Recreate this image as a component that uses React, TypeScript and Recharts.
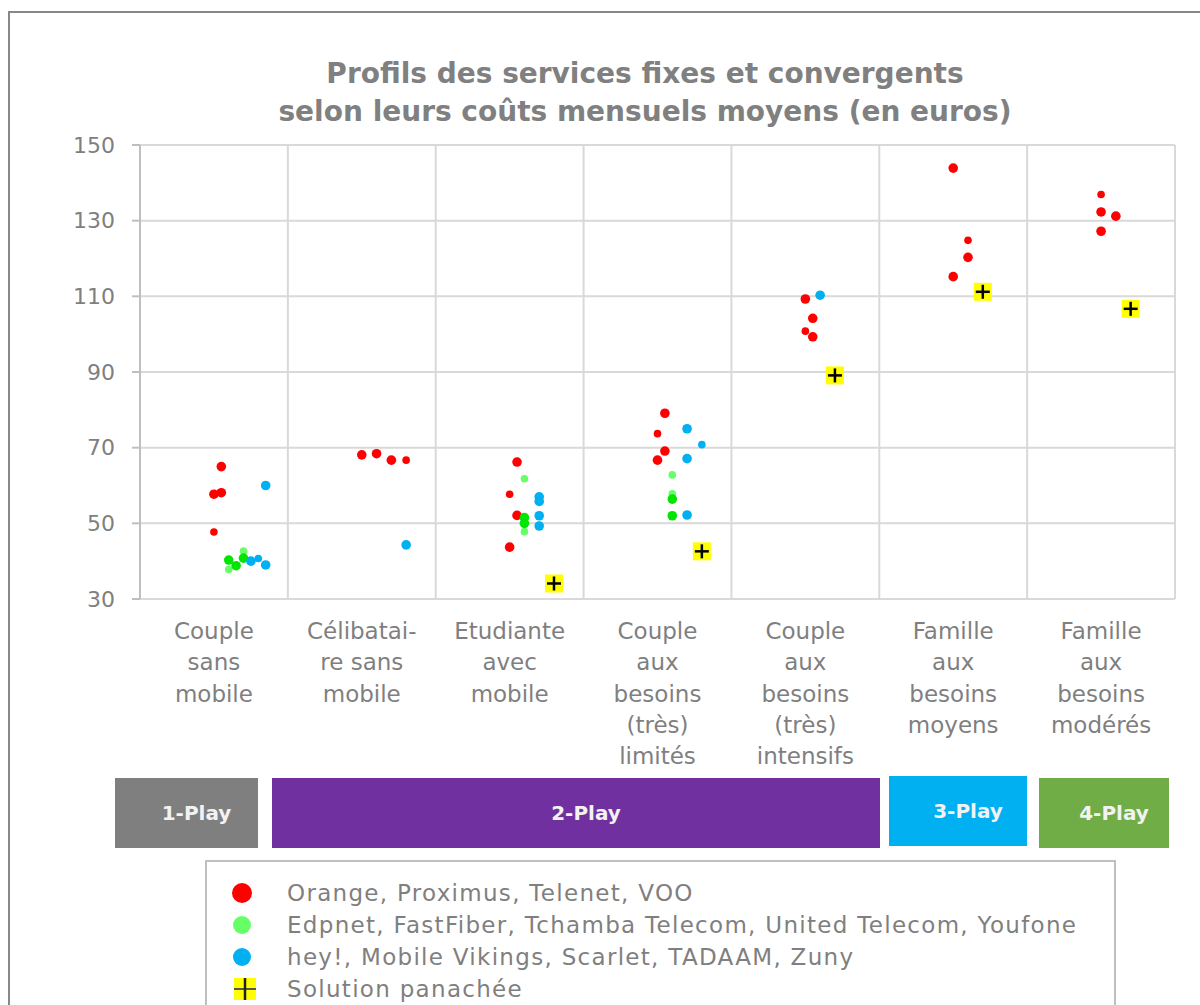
import React from "react";
import { CartesianGrid, ReferenceLine, Scatter, ScatterChart, XAxis, YAxis } from "recharts";

// categories (one band per profile, x = band index + position inside band)
const categoryLines: string[][] = [
    ["Couple", "sans", "mobile"],
    ["Célibatai-", "re sans", "mobile"],
    ["Etudiante", "avec", "mobile"],
    ["Couple", "aux", "besoins", "(très)", "limités"],
    ["Couple", "aux", "besoins", "(très)", "intensifs"],
    ["Famille", "aux", "besoins", "moyens"],
    ["Famille", "aux", "besoins", "modérés"],
];
const categoryTicks = [0.5, 1.5, 2.5, 3.5, 4.5, 5.5, 6.5];
const bandEdges = [0, 1, 2, 3, 4, 5, 6, 7];
const yTicks = [30, 50, 70, 90, 110, 130, 150];

const title = ["Profils des services fixes et convergents", "selon leurs coûts mensuels moyens (en euros)"];

// Orange, Proximus, Telenet, VOO
const bigOperatorsA = [
    { x: 0.55, y: 65.0 }, { x: 0.5, y: 57.7 }, { x: 0.55, y: 58.1 },
    { x: 1.5, y: 68.1 }, { x: 1.6, y: 68.4 }, { x: 1.7, y: 66.7 },
    { x: 2.55, y: 66.2 }, { x: 2.55, y: 52.1 }, { x: 2.5, y: 43.7 },
    { x: 3.55, y: 79.1 }, { x: 3.55, y: 69.1 }, { x: 3.5, y: 66.7 },
    { x: 4.5, y: 109.3 }, { x: 4.55, y: 104.2 }, { x: 4.55, y: 99.3 },
    { x: 5.5, y: 143.9 }, { x: 5.6, y: 120.3 }, { x: 5.5, y: 115.2 },
    { x: 6.5, y: 132.3 }, { x: 6.6, y: 131.2 }, { x: 6.5, y: 127.2 },
];
const bigOperatorsB = [
    { x: 0.5, y: 47.7 }, { x: 1.8, y: 66.7 }, { x: 2.5, y: 57.7 }, { x: 3.5, y: 73.7 },
    { x: 4.5, y: 100.8 }, { x: 5.6, y: 124.8 }, { x: 6.5, y: 136.9 },
];

// Edpnet, FastFiber, Tchamba Telecom, United Telecom, Youfone
const smallOperatorsA = [
    { x: 0.6, y: 40.3 }, { x: 0.7, y: 40.8 }, { x: 0.65, y: 38.8 },
    { x: 2.6, y: 51.5 }, { x: 2.6, y: 50.0 },
    { x: 3.6, y: 56.4 }, { x: 3.6, y: 52.0 },
];
const smallOperatorsB = [
    { x: 0.7, y: 42.7 }, { x: 0.6, y: 37.8 },
    { x: 2.6, y: 61.8 }, { x: 2.6, y: 47.8 },
    { x: 3.6, y: 62.8 }, { x: 3.6, y: 57.8 },
];

// hey!, Mobile Vikings, Scarlet, TADAAM, Zuny
const challengersA = [
    { x: 0.85, y: 60.0 }, { x: 0.75, y: 40.0 }, { x: 0.85, y: 39.0 },
    { x: 1.8, y: 44.3 },
    { x: 2.7, y: 57.0 }, { x: 2.7, y: 55.8 }, { x: 2.7, y: 52.0 }, { x: 2.7, y: 49.3 },
    { x: 3.7, y: 75.0 }, { x: 3.7, y: 67.1 }, { x: 3.7, y: 52.2 },
    { x: 4.6, y: 110.3 },
];
const challengersB = [{ x: 0.8, y: 40.7 }, { x: 3.8, y: 70.8 }];

// Solution panachée
const mixedSolution = [
    { x: 2.8, y: 34.1 }, { x: 3.8, y: 42.6 }, { x: 4.7, y: 89.1 }, { x: 5.7, y: 111.2 }, { x: 6.7, y: 106.7 },
];

const playBands = [
    { label: "1-Play", left: 115, width: 143, top: 778, color: "#7f7f7f" },
    { label: "2-Play", left: 272, width: 608, top: 778, color: "#7030a0" },
    { label: "3-Play", left: 889, width: 138, top: 776, color: "#00b0f0" },
    { label: "4-Play", left: 1039, width: 130, top: 778, color: "#70ad47" },
];

const legendItems = [
    { label: "Orange, Proximus, Telenet, VOO", color: "#ff0000" },
    { label: "Edpnet, FastFiber, Tchamba Telecom, United Telecom, Youfone", color: "#66ff66" },
    { label: "hey!, Mobile Vikings, Scarlet, TADAAM, Zuny", color: "#00b0f0" },
    { label: "Solution panachée", color: "cross" },
];

const FONT = "'DejaVu Sans', Verdana, sans-serif";
const GREY = "#7f7f7f";

const dot = (color: string, r: number) => (p: any) => <circle cx={p.cx} cy={p.cy} r={r} fill={color} />;

const Cross = (p: any) => (
    <g>
        <rect x={p.cx - 9} y={p.cy - 9} width={18} height={18} fill="#ffff00" />
        <line x1={p.cx - 7} x2={p.cx + 7} y1={p.cy} y2={p.cy} stroke="#000" strokeWidth={2.5} />
        <line x1={p.cx} x2={p.cx} y1={p.cy - 7} y2={p.cy + 7} stroke="#000" strokeWidth={2.5} />
    </g>
);

const CategoryTick = (props: any) => {
    const lines = categoryLines[Math.floor(props.payload.value)] || [];
    return (
        <text x={props.x} y={props.y} textAnchor="middle" fill={GREY} fontSize={23} fontFamily={FONT}>
            {lines.map((l, i) => (
                <tspan key={i} x={props.x} y={props.y + 40 + i * 31.3}>
                    {l}
                </tspan>
            ))}
        </text>
    );
};

export default function App() {
    return (
        <div
            style={{
                position: "absolute",
                left: 0,
                top: 0,
                width: 1200,
                height: 1005,
                overflow: "hidden",
                background: "#fff",
                fontFamily: FONT,
            }}
        >
            <div
                style={{
                    position: "absolute",
                    left: 8,
                    top: 11,
                    width: 1250,
                    height: 1100,
                    borderTop: "2px solid #888",
                    borderLeft: "2px solid #888",
                }}
            />
            <div
                style={{
                    position: "absolute",
                    left: 145,
                    top: 55,
                    width: 1000,
                    textAlign: "center",
                    color: "#808080",
                    fontWeight: "bold",
                    fontSize: 28,
                    lineHeight: "38px",
                }}
            >
                {title.map((t) => (
                    <div key={t}>{t}</div>
                ))}
            </div>

            <div style={{ position: "absolute", left: 0, top: 0 }}>
                <ScatterChart width={1200} height={780} margin={{ top: 145, right: 25, bottom: 0, left: 80 }}>
                    <CartesianGrid vertical={false} stroke="#d9d9d9" strokeWidth={2} />
                    {bandEdges.map((e) => (
                        <ReferenceLine key={e} x={e} stroke="#d9d9d9" strokeWidth={2} />
                    ))}
                    <XAxis
                        type="number"
                        dataKey="x"
                        domain={[0, 7]}
                        ticks={categoryTicks}
                        tick={<CategoryTick />}
                        tickLine={false}
                        tickSize={0}
                        tickMargin={0}
                        axisLine={{ stroke: "#d9d9d9", strokeWidth: 2 }}
                        height={181}
                        interval={0}
                        allowDataOverflow
                    />
                    <YAxis
                        type="number"
                        dataKey="y"
                        domain={[30, 150]}
                        ticks={yTicks}
                        width={60}
                        tickSize={8}
                        tickMargin={17}
                        tickLine={{ stroke: "#bfbfbf", strokeWidth: 2 }}
                        axisLine={{ stroke: "#bfbfbf", strokeWidth: 2 }}
                        tick={{ fill: GREY, fontSize: 22, fontFamily: FONT }}
                        allowDataOverflow
                    />
                    <Scatter data={bigOperatorsA} shape={dot("#ff0000", 4.8)} isAnimationActive={false} />
                    <Scatter data={bigOperatorsB} shape={dot("#ff0000", 3.8)} isAnimationActive={false} />
                    <Scatter data={smallOperatorsB} shape={dot("#66ff66", 3.8)} isAnimationActive={false} />
                    <Scatter data={smallOperatorsA} shape={dot("#00e600", 4.8)} isAnimationActive={false} />
                    <Scatter data={challengersA} shape={dot("#00b0f0", 4.8)} isAnimationActive={false} />
                    <Scatter data={challengersB} shape={dot("#00b0f0", 3.8)} isAnimationActive={false} />
                    <Scatter data={mixedSolution} shape={Cross} isAnimationActive={false} />
                </ScatterChart>
            </div>

            {playBands.map((b) => (
                <div
                    key={b.label}
                    style={{
                        position: "absolute",
                        left: b.left,
                        top: b.top,
                        width: b.width,
                        height: 70,
                        background: b.color,
                        color: "#f2f2f2",
                        fontWeight: "bold",
                        fontSize: 20,
                        display: "flex",
                        alignItems: "center",
                        justifyContent: "center",
                        paddingLeft: 20,
                        boxSizing: "border-box",
                    }}
                >
                    {b.label}
                </div>
            ))}

            <div
                style={{
                    position: "absolute",
                    left: 205,
                    top: 860,
                    width: 911,
                    height: 200,
                    border: "2px solid #bfbfbf",
                    boxSizing: "border-box",
                }}
            >
                {legendItems.map((it, i) => (
                    <div
                        key={it.label}
                        style={{
                            position: "absolute",
                            left: 0,
                            top: 15 + i * 32,
                            height: 32,
                            display: "flex",
                            alignItems: "center",
                            color: GREY,
                            fontSize: 23,
                            letterSpacing: 1.3,
                            whiteSpace: "nowrap",
                        }}
                    >
                        <svg width={80} height={32}>
                            {it.color === "cross" ? (
                                <g>
                                    <rect x={27} y={5} width={22} height={22} fill="#ffff00" />
                                    <line x1={27} x2={49} y1={16} y2={16} stroke="#555" strokeWidth={2} />
                                    <line x1={38} x2={38} y1={5} y2={27} stroke="#222" strokeWidth={2.5} />
                                </g>
                            ) : (
                                <circle cx={35} cy={16} r={it.color === "#ff0000" ? 10 : 9} fill={it.color} />
                            )}
                        </svg>
                        <span>{it.label}</span>
                    </div>
                ))}
            </div>
        </div>
    );
}
